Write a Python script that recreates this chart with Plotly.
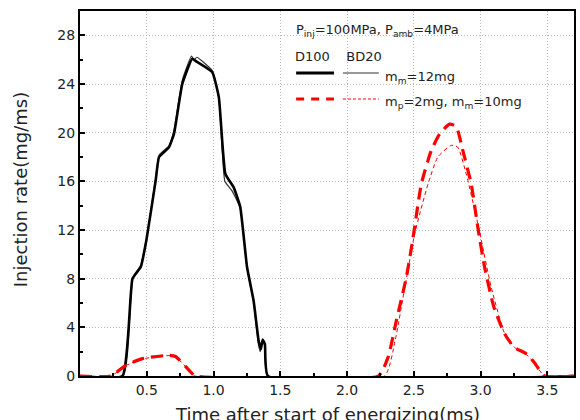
import plotly.graph_objects as go

# D100, m_m=12mg (thick black)
t_d100_m = [0.0, 0.318, 0.393, 0.455, 0.497, 0.567, 0.592, 0.666, 0.704, 0.766, 0.840, 0.865, 0.99, 1.04, 1.089, 1.151, 1.20, 1.251, 1.30, 1.338, 1.355, 1.368, 1.385, 1.408, 3.7]
r_d100_m = [0.0, 0.0, 8.0, 8.96, 11.15, 16.08, 18.0, 18.8, 19.9, 24.0, 26.08, 25.9, 24.98, 22.9, 16.6, 15.5, 13.9, 8.96, 6.2, 2.9, 2.2, 3.0, 2.6, 0.0, 0.0]
# BD20, m_m=12mg (thin black)
t_bd20_m = [0.0, 0.322, 0.395, 0.455, 0.50, 0.567, 0.595, 0.666, 0.704, 0.766, 0.835, 0.855, 0.875, 0.99, 1.04, 1.085, 1.14, 1.20, 1.251, 1.30, 1.335, 1.35, 1.365, 1.385, 1.405, 3.7]
r_bd20_m = [0.0, 0.0, 8.1, 9.1, 11.4, 16.3, 18.2, 18.9, 20.2, 24.3, 26.3, 26.0, 26.2, 25.1, 22.9, 16.0, 15.2, 13.8, 8.9, 6.1, 2.7, 2.0, 2.9, 2.5, 0.0, 0.0]
# D100, m_p=2mg, m_m=10mg (thick red dashed)
t_d100_pm = [0.0, 0.23, 0.343, 0.467, 0.666, 0.716, 0.84, 0.86, 2.234, 2.308, 2.37, 2.445, 2.495, 2.557, 2.63, 2.694, 2.768, 2.818, 2.868, 2.93, 2.98, 3.03, 3.10, 3.18, 3.25, 3.34, 3.40, 3.48, 3.7]
r_d100_pm = [0.0, 0.0, 0.88, 1.43, 1.7, 1.6, 0.2, 0.0, 0.0, 1.56, 4.58, 8.14, 11.4, 15.8, 18.5, 19.9, 20.7, 20.5, 18.5, 15.8, 12.2, 8.96, 5.67, 3.48, 2.38, 1.84, 1.15, 0.0, 0.0]
# BD20, m_p=2mg, m_m=10mg (thin red dashed)
t_bd20_pm = [0.0, 0.23, 0.343, 0.467, 0.666, 0.716, 0.84, 0.86, 2.28, 2.36, 2.433, 2.507, 2.607, 2.68, 2.78, 2.83, 2.893, 2.98, 3.08, 3.18, 3.26, 3.34, 3.40, 3.48, 3.7]
r_bd20_pm = [0.0, 0.0, 0.85, 1.4, 1.68, 1.58, 0.2, 0.0, 0.0, 2.9, 7.3, 11.7, 15.8, 18.0, 18.96, 18.8, 16.6, 12.5, 7.3, 3.5, 2.3, 1.8, 1.1, 0.0, 0.0]

x_ticks = [0.5, 1.0, 1.5, 2.0, 2.5, 3.0, 3.5]
y_ticks = [0, 4, 8, 12, 16, 20, 24, 28]

fig = go.Figure()
fig.add_trace(go.Scatter(x=t_bd20_m, y=r_bd20_m, mode="lines",
                         line=dict(color="#333333", width=1.2, shape="spline", smoothing=0.4)))
fig.add_trace(go.Scatter(x=t_d100_m, y=r_d100_m, mode="lines",
                         line=dict(color="black", width=2.6, shape="spline", smoothing=0.4)))
fig.add_trace(go.Scatter(x=t_bd20_pm, y=r_bd20_pm, mode="lines",
                         line=dict(color="red", width=1.0, dash="4px,3px", shape="spline", smoothing=0.5)))
fig.add_trace(go.Scatter(x=t_d100_pm, y=r_d100_pm, mode="lines",
                         line=dict(color="red", width=3.2, dash="12px,7px", shape="spline", smoothing=0.5)))

font = "DejaVu Sans"
fig.update_layout(
    width=580, height=420,
    margin=dict(l=80, r=4, t=11, b=44),
    plot_bgcolor="white", paper_bgcolor="white",
    showlegend=False,
    font=dict(family=font, size=14, color="#222222"),
)
grid_style = dict(showgrid=True, gridcolor="#b8b8b8", griddash="1px,2px", gridwidth=1)
fig.update_xaxes(
    range=[0, 3.7], tickvals=x_ticks, ticktext=[f"{v:.1f}" for v in x_ticks],
    ticks="inside", ticklen=5, tickwidth=2, tickcolor="black",
    minor=dict(dtick=0.25, tick0=0, ticks="inside", ticklen=3, tickwidth=1.5, tickcolor="black", showgrid=False),
    showline=True, linecolor="black", linewidth=2, mirror=True,
    zeroline=False, tickfont=dict(size=14), **grid_style,
)
fig.update_yaxes(
    range=[0, 30], tickvals=y_ticks,
    ticks="inside", ticklen=5, tickwidth=2, tickcolor="black",
    minor=dict(dtick=2, tick0=0, ticks="inside", ticklen=3, tickwidth=1.5, tickcolor="black", showgrid=False),
    showline=True, linecolor="black", linewidth=2, mirror=True,
    zeroline=False, tickfont=dict(size=14), **grid_style,
)

pw = 496.0
ph = 365.0
def px(x):
    return (x - 80) / pw
def py(y):
    return (376 - y) / ph

# axis titles (x title partly clipped at the bottom, as in the reference)
fig.add_annotation(xref="paper", yref="paper", x=px(328), y=py(415), text="Time after start of energizing(ms)",
                   showarrow=False, xanchor="center", yanchor="middle", font=dict(size=18, family=font, color="#222222"))
fig.add_annotation(xref="paper", yref="paper", x=px(20), y=py(190), text="Injection rate(mg/ms)", textangle=-90,
                   showarrow=False, xanchor="center", yanchor="middle", font=dict(size=18, family=font, color="#222222"))

# legend-like annotations
def ann(x, y, text, size=13):
    fig.add_annotation(xref="paper", yref="paper", x=x, y=y, text=text, showarrow=False,
                       xanchor="left", yanchor="middle", font=dict(size=size, family=font, color="#222222"))

ann(px(295), py(30), "P<sub>inj</sub>=100MPa, P<sub>amb</sub>=4MPa")
ann(px(294), py(56), "D100    BD20")
ann(px(384), py(77), "m<sub>m</sub>=12mg")
ann(px(384), py(103), "m<sub>p</sub>=2mg, m<sub>m</sub>=10mg")

fig.add_shape(type="line", xref="paper", yref="paper", x0=px(297), x1=px(335), y0=py(73), y1=py(73),
              line=dict(color="black", width=3))
fig.add_shape(type="line", xref="paper", yref="paper", x0=px(344), x1=px(380), y0=py(73), y1=py(73),
              line=dict(color="#333333", width=1.2))
fig.add_shape(type="line", xref="paper", yref="paper", x0=px(297), x1=px(335), y0=py(99), y1=py(99),
              line=dict(color="red", width=3.2, dash="8px,7px"))
fig.add_shape(type="line", xref="paper", yref="paper", x0=px(344), x1=px(380), y0=py(99), y1=py(99),
              line=dict(color="red", width=1.0, dash="3px,2px"))

fig.write_html("out.html")
